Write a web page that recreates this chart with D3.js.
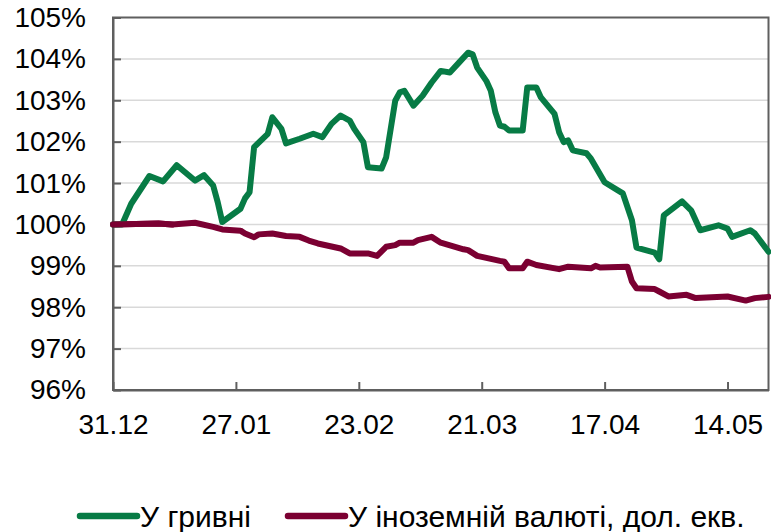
<!DOCTYPE html>
<meta charset="utf-8">
<head>
  <title>Deposits</title>
  <style>
    body { margin: 0; background: #fff; }
    text { font-family: "Liberation Sans", Arial, sans-serif; }
  </style>
</head>
<body>
<script src="https://d3js.org/d3.v7.min.js"></script>
<div id="chart"></div>
<script>

// values, % of 31.12
var uahDates = ["2023-12-31","2024-01-02","2024-01-04","2024-01-08","2024-01-11","2024-01-14","2024-01-18","2024-01-20",
  "2024-01-22","2024-01-23","2024-01-24","2024-01-28","2024-01-29","2024-01-30","2024-01-31","2024-02-03","2024-02-04",
  "2024-02-06","2024-02-07","2024-02-10","2024-02-13","2024-02-15","2024-02-17","2024-02-19","2024-02-21","2024-02-22",
  "2024-02-24","2024-02-25","2024-02-28","2024-02-29","2024-03-02","2024-03-03","2024-03-04","2024-03-06","2024-03-08",
  "2024-03-10","2024-03-12","2024-03-14","2024-03-16","2024-03-18","2024-03-19","2024-03-20","2024-03-22","2024-03-23",
  "2024-03-24","2024-03-25","2024-03-26","2024-03-27","2024-03-30","2024-03-31","2024-04-02","2024-04-03","2024-04-06",
  "2024-04-07","2024-04-08","2024-04-09","2024-04-10","2024-04-13","2024-04-14","2024-04-17","2024-04-21","2024-04-23",
  "2024-04-24","2024-04-28","2024-04-29","2024-04-30","2024-05-04","2024-05-06","2024-05-08","2024-05-12","2024-05-14",
  "2024-05-15","2024-05-19","2024-05-20","2024-05-23"];
var uahValues = [100.0,100.0,100.5,101.17,101.04,101.43,101.06,101.19,
  100.94,100.54,100.06,100.38,100.63,100.78,101.87,102.19,102.59,
  102.31,101.96,102.07,102.19,102.11,102.43,102.63,102.51,102.31,
  101.99,101.38,101.35,101.62,102.99,103.19,103.23,102.87,103.11,
  103.43,103.71,103.67,103.91,104.15,104.11,103.79,103.47,103.23,
  102.71,102.39,102.36,102.27,102.27,103.31,103.31,103.07,102.67,
  102.23,101.99,102.03,101.79,101.72,101.59,101.02,100.75,100.10,
  99.44,99.32,99.16,100.22,100.56,100.34,99.86,99.98,99.90,
  99.70,99.86,99.78,99.34];

var fxDates = ["2023-12-31","2024-01-10","2024-01-13","2024-01-18","2024-01-22","2024-01-24","2024-01-28","2024-01-29",
  "2024-01-31","2024-02-01","2024-02-04","2024-02-07","2024-02-10","2024-02-12","2024-02-14","2024-02-19","2024-02-21",
  "2024-02-25","2024-02-27","2024-02-29","2024-03-02","2024-03-03","2024-03-06","2024-03-07","2024-03-10","2024-03-12",
  "2024-03-17","2024-03-18","2024-03-20","2024-03-25","2024-03-26","2024-03-27","2024-03-30","2024-03-31","2024-04-02",
  "2024-04-07","2024-04-09","2024-04-14","2024-04-15","2024-04-16","2024-04-22","2024-04-23","2024-04-24","2024-04-28",
  "2024-04-29","2024-05-01","2024-05-05","2024-05-07","2024-05-14","2024-05-18","2024-05-20","2024-05-23"];
var fxValues = [100.0,100.02,100.0,100.04,99.94,99.88,99.85,99.78,
  99.69,99.76,99.78,99.72,99.70,99.61,99.54,99.42,99.30,
  99.30,99.24,99.46,99.50,99.56,99.56,99.62,99.70,99.56,
  99.40,99.38,99.24,99.12,99.10,98.94,98.94,99.10,99.02,
  98.92,98.98,98.94,99.0,98.96,98.98,98.62,98.46,98.44,
  98.38,98.26,98.30,98.22,98.26,98.16,98.22,98.25];

var seriesNames = ["У гривні", "У іноземній валюті, дол. екв."];
var seriesColors = ["#077b45", "#7b0032"];
var xTickDates = ["2023-12-31","2024-01-27","2024-02-23","2024-03-21","2024-04-17","2024-05-14"];
var yTicks = [96, 97, 98, 99, 100, 101, 102, 103, 104, 105];

var W = 771, H = 532;
var margin = {top: 17.5, right: 2.5, bottom: 142, left: 113};
var width = W - margin.left - margin.right,
    height = H - margin.top - margin.bottom;

var parse = d3.utcParse("%Y-%m-%d");
var fmt = d3.utcFormat("%d.%m");

var svg = d3.select("#chart").append("svg")
    .attr("width", W)
    .attr("height", H);

var g = svg.append("g")
    .attr("transform", "translate(" + margin.left + "," + margin.top + ")");

var x = d3.scaleUtc()
    .domain([parse("2023-12-31"), parse("2024-05-23")])
    .range([0, width]);

var y = d3.scaleLinear()
    .domain([96, 105])
    .range([height, 0]);

// gridlines
g.append("g")
  .selectAll("line")
  .data(yTicks.filter(function(d) { return d > 96 && d < 105; }))
  .enter().append("line")
    .attr("x1", 0)
    .attr("x2", width)
    .attr("y1", function(d) { return y(d); })
    .attr("y2", function(d) { return y(d); })
    .style("stroke", "#d9d9d9")
    .style("stroke-width", "1.5px");

// frame
g.append("rect")
    .attr("width", width)
    .attr("height", height)
    .style("fill", "none")
    .style("stroke", "#5f5f5f")
    .style("stroke-width", "2px");

var yAxis = g.append("g")
    .call(d3.axisLeft(y)
      .tickValues(yTicks)
      .tickSizeInner(-8)
      .tickSizeOuter(0)
      .tickPadding(27)
      .tickFormat(function(d) { return d + "%"; }));

var xAxis = g.append("g")
    .attr("transform", "translate(0," + height + ")")
    .call(d3.axisBottom(x)
      .tickValues(xTickDates.map(parse))
      .tickSizeInner(-8)
      .tickSizeOuter(0)
      .tickPadding(24)
      .tickFormat(fmt));

[yAxis, xAxis].forEach(function(a) {
  a.select(".domain").style("stroke", "#5f5f5f").style("stroke-width", "2px");
  a.selectAll(".tick line").style("stroke", "#5f5f5f").style("stroke-width", "2px");
  a.selectAll("text")
    .style("font-family", "'Liberation Sans', Arial, sans-serif")
    .style("font-size", "28px")
    .style("fill", "#000");
});

var line = d3.line()
    .x(function(d) { return x(d[0]); })
    .y(function(d) { return y(d[1]); });

var series = [
  d3.zip(uahDates.map(parse), uahValues),
  d3.zip(fxDates.map(parse), fxValues)
];

// draw red first so green sits on top where they touch
[1, 0].forEach(function(i) {
  g.append("path")
    .datum(series[i])
    .attr("d", line)
    .style("fill", "none")
    .style("stroke", seriesColors[i])
    .style("stroke-width", "6px")
    .style("stroke-linejoin", "round")
    .style("stroke-linecap", "round");
});
// red over the flat start of the green
g.append("path")
  .datum(series[1].slice(0, 3))
  .attr("d", line)
  .style("fill", "none")
  .style("stroke", seriesColors[1])
  .style("stroke-width", "6px")
  .style("stroke-linecap", "round");

// legend
var legendX = [80, 288];
var legend = svg.append("g")
  .selectAll("g")
  .data(seriesNames)
  .enter().append("g")
    .attr("transform", function(d, i) { return "translate(" + legendX[i] + ",516)"; });

legend.append("line")
    .attr("x1", 0)
    .attr("x2", 57)
    .style("stroke", function(d, i) { return seriesColors[i]; })
    .style("stroke-width", "6.5px")
    .style("stroke-linecap", "round");

legend.append("text")
    .attr("x", 60)
    .attr("dy", "0.36em")
    .style("font-size", "30px")
    .text(function(d) { return d; });

</script>
</body>
</html>
